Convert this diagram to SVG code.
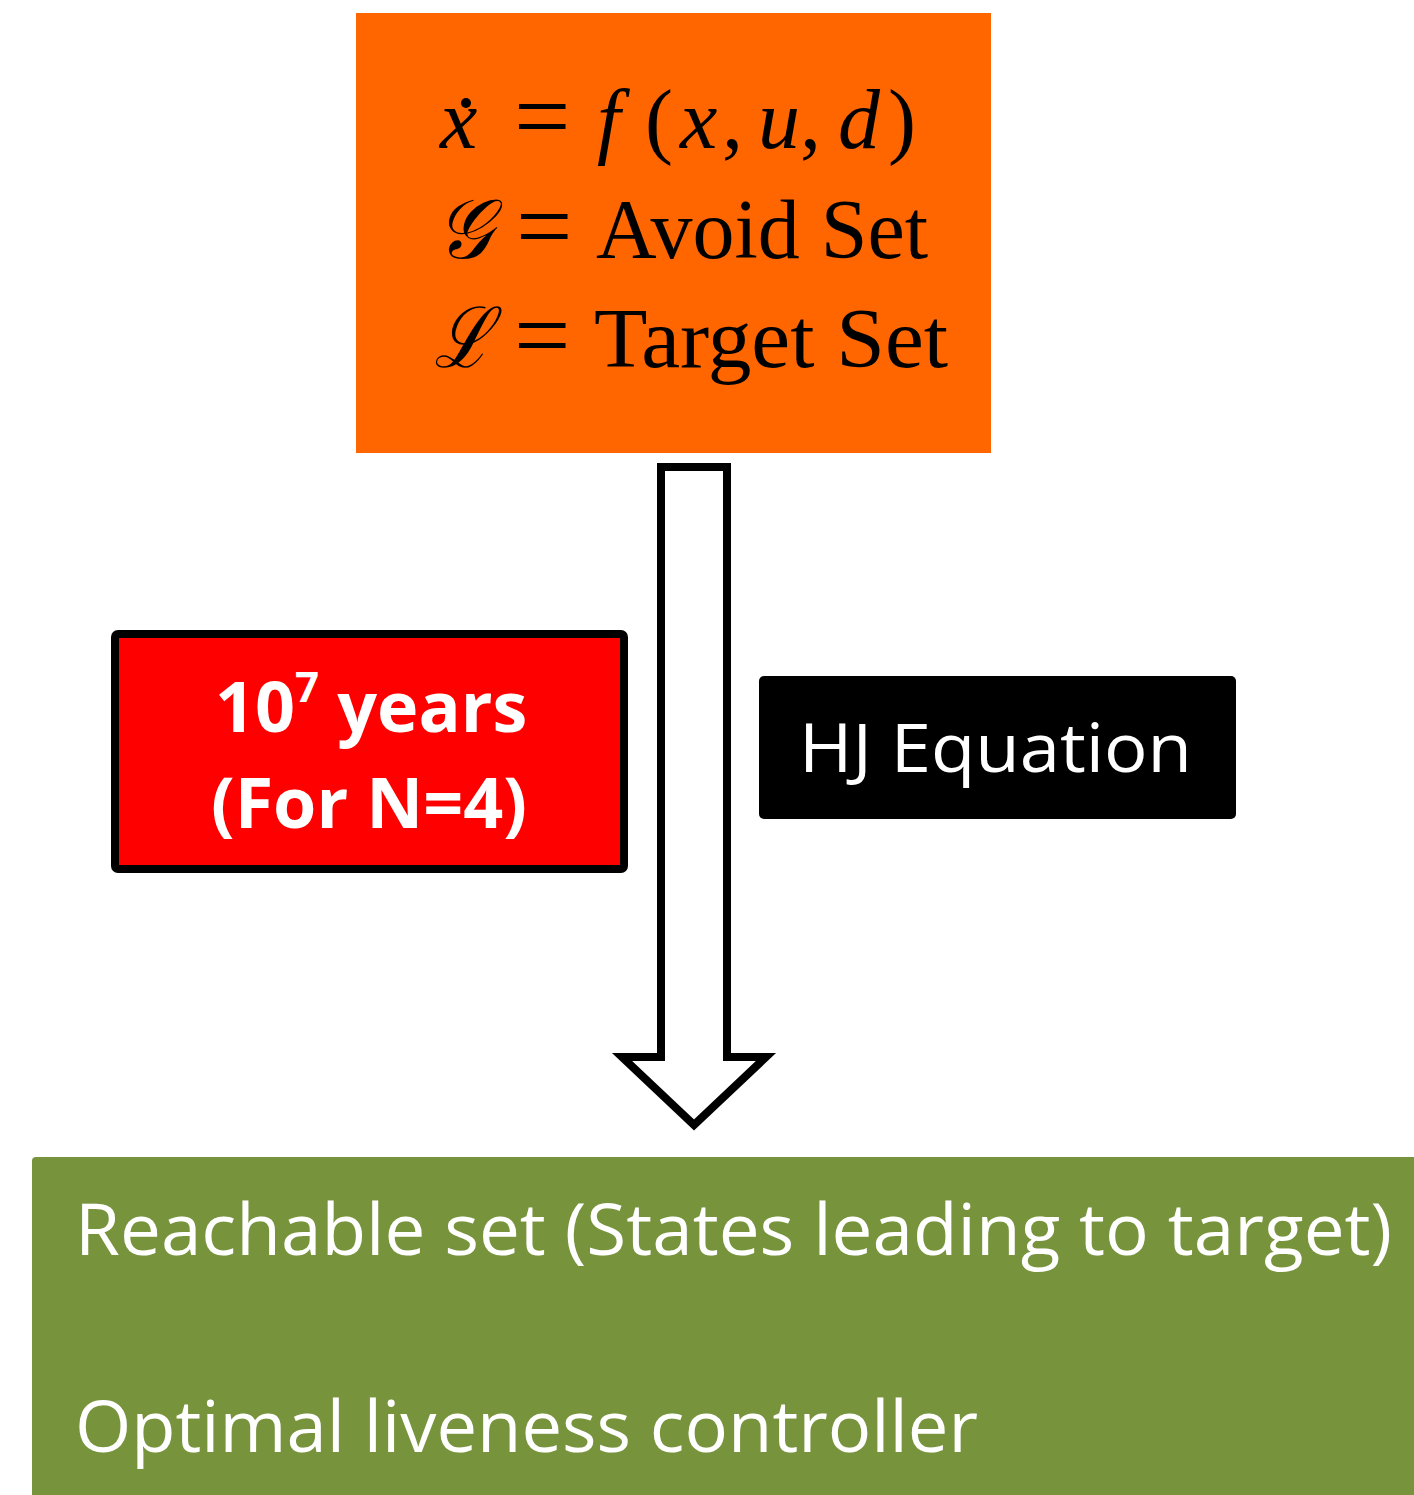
<svg xmlns="http://www.w3.org/2000/svg" width="1414" height="1495" viewBox="0 0 1414 1495">
<style>
.math{font-family:"Liberation Serif","DejaVu Serif",serif;font-size:84px;fill:#000}
.it{font-style:italic}
.eq{font-size:100px}
.lbl{font-family:"Open Sans","Liberation Sans",sans-serif;fill:#fff}
</style>
<rect width="1414" height="1495" fill="#fff"/>
<g id="connectors">
<path d="M661,467 H727 V1057 H766 L694,1125 L622,1057 H661 Z" fill="#fff" stroke="#000" stroke-width="8" stroke-linejoin="miter"/>
</g>
<g id="model">
<rect x="356" y="13" width="635" height="440" fill="#FF6600"/>
<text class="math" y="148"><tspan class="it" x="440">x</tspan><tspan class="eq" x="514" y="150">=</tspan><tspan class="it" x="597" y="148">f</tspan><tspan x="645">(</tspan><tspan class="it" x="680">x</tspan><tspan x="722">,</tspan><tspan class="it" x="758">u</tspan><tspan x="800">,</tspan><tspan class="it" x="838">d</tspan><tspan x="888">)</tspan></text>
<circle cx="466" cy="103" r="5" fill="#000"/>
<text class="math" y="258"><tspan class="it" x="436" textLength="56" lengthAdjust="spacingAndGlyphs">𝒢</tspan><tspan class="eq" x="516" y="260">=</tspan><tspan x="596" y="258" textLength="332" lengthAdjust="spacingAndGlyphs">Avoid Set</tspan></text>
<text class="math" y="367"><tspan class="it" x="434" textLength="58" lengthAdjust="spacingAndGlyphs">ℒ</tspan><tspan class="eq" x="514" y="369">=</tspan><tspan x="594" y="367" textLength="354" lengthAdjust="spacingAndGlyphs">Target Set</tspan></text>
</g>
<g id="time">
<rect x="115" y="634" width="509" height="235" rx="3" fill="#FF0000" stroke="#000" stroke-width="8"/>
<text class="lbl" font-weight="bold" font-size="70" x="215" y="732">10<tspan font-size="42" dy="-30">7</tspan><tspan dy="30"> years</tspan></text>
<text class="lbl" font-weight="bold" font-size="70" x="369" y="828" text-anchor="middle">(For N=4)</text>
</g>
<g id="hj">
<rect x="759" y="676" width="477" height="143" rx="5" fill="#000"/>
<text class="lbl" font-size="68" x="799" y="772" textLength="393" lengthAdjust="spacingAndGlyphs">HJ Equation</text>
</g>
<g id="result">
<rect x="32" y="1157" width="1390" height="345" rx="4" fill="#77933C"/>
<text class="lbl" font-size="72" x="75" y="1255" textLength="1317" lengthAdjust="spacingAndGlyphs">Reachable set (States leading to target)</text>
<text class="lbl" font-size="72" x="75" y="1452" textLength="903" lengthAdjust="spacingAndGlyphs">Optimal liveness controller</text>
</g>
</svg>
